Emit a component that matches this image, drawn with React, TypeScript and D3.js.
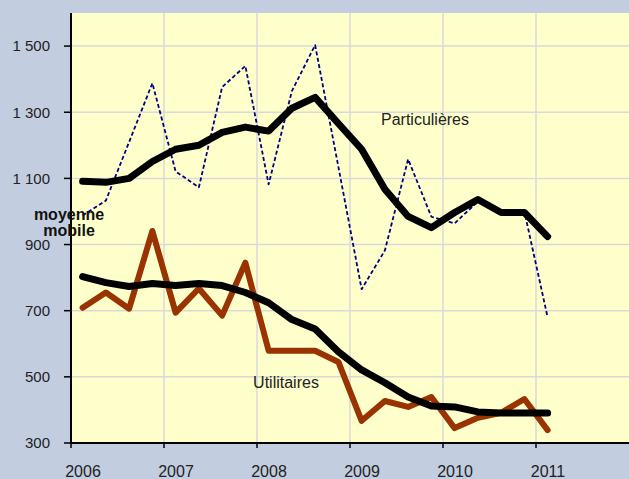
import * as d3 from 'd3';
import { useEffect, useRef } from 'react';

const WIDTH = 629;
const HEIGHT = 479;

// quarterly observations, 2006 T1 -> 2011 T1
const QUARTERS = [
    '2006T1', '2006T2', '2006T3', '2006T4',
    '2007T1', '2007T2', '2007T3', '2007T4',
    '2008T1', '2008T2', '2008T3', '2008T4',
    '2009T1', '2009T2', '2009T3', '2009T4',
    '2010T1', '2010T2', '2010T3', '2010T4',
    '2011T1',
];

const PARTICULIERES = [
    988, 1033, 1210, 1388, 1121, 1073, 1376, 1440, 1082, 1364, 1503, 1135, 765, 882, 1158, 984, 964, 1030, 1000,
    1000, 680,
];
const PARTICULIERES_MM = [
    1091, 1088, 1100, 1151, 1188, 1200, 1239, 1255, 1243, 1312, 1345, 1266, 1188, 1067, 985, 951, 997, 1036, 997,
    997, 924,
];
const UTILITAIRES = [
    709, 755, 706, 941, 694, 767, 685, 845, 579, 579, 579, 545, 367, 427, 409, 439, 345, 376, 391, 433, 339,
];
const UTILITAIRES_MM = [
    803, 785, 773, 782, 776, 782, 776, 755, 724, 673, 645, 576, 521, 482, 439, 412, 409, 394, 391, 391, 391,
];

const Y_TICKS = [300, 500, 700, 900, 1100, 1300, 1500];
const YEARS = [2006, 2007, 2008, 2009, 2010, 2011];

const FONT = '"Liberation Sans", Arial, sans-serif';

// "2008T3" -> 2008.625 (middle of the quarter)
const quarterToYear = (q: string) => +q.slice(0, 4) + (+q.slice(5) - 0.5) / 4;

const App = () => {
    const svgRef = useRef<SVGSVGElement | null>(null);

    useEffect(() => {
        if (!svgRef.current) return;
        const svg = d3.select(svgRef.current);
        svg.selectAll('*').remove();

        const margin = { top: 13, right: 0, bottom: 36, left: 71 };
        const innerBottom = HEIGHT - margin.bottom;

        const xScale = d3.scaleLinear().domain([2006, 2012]).range([margin.left, WIDTH - margin.right]);
        const yScale = d3.scaleLinear().domain([300, 1600]).range([innerBottom, margin.top]);

        // French thousands separator: "1 500"
        const fmt = d3.formatLocale({ decimal: ',', thousands: '\u00a0', grouping: [3], currency: ['', ' €'] }).format(',d');

        // page background + plot area
        svg.append('rect').attr('width', WIDTH).attr('height', HEIGHT).attr('fill', '#c3cde0');
        svg.append('rect')
            .attr('x', margin.left)
            .attr('y', margin.top)
            .attr('width', WIDTH - margin.left)
            .attr('height', innerBottom - margin.top)
            .attr('fill', '#ffffcc');

        // grid
        const grid = svg.append('g').attr('stroke', '#d9d9d9').attr('stroke-width', 1.5);
        grid.selectAll('.gy')
            .data(Y_TICKS)
            .join('line')
            .attr('x1', margin.left)
            .attr('x2', WIDTH)
            .attr('y1', (d) => yScale(d))
            .attr('y2', (d) => yScale(d));
        grid.selectAll('.gx')
            .data(YEARS.slice(1))
            .join('line')
            .attr('x1', (d) => xScale(d))
            .attr('x2', (d) => xScale(d))
            .attr('y1', margin.top)
            .attr('y2', innerBottom);

        // series
        const line = d3
            .line<number>()
            .x((_, i) => xScale(quarterToYear(QUARTERS[i])))
            .y((d) => yScale(d));

        const series = [
            { data: UTILITAIRES, color: '#993300', width: 6, dash: null },
            { data: PARTICULIERES, color: '#000080', width: 1.8, dash: '4,2.5' },
            { data: UTILITAIRES_MM, color: '#000000', width: 7, dash: null },
            { data: PARTICULIERES_MM, color: '#000000', width: 7, dash: null },
        ];
        series.forEach((s) => {
            svg.append('path')
                .attr('d', line(s.data))
                .attr('fill', 'none')
                .attr('stroke', s.color)
                .attr('stroke-width', s.width)
                .attr('stroke-linejoin', 'round')
                .attr('stroke-linecap', s.dash ? 'butt' : 'round')
                .attr('stroke-dasharray', s.dash);
        });

        // axes
        const axisY = svg.append('g').attr('transform', `translate(${margin.left},0)`);
        axisY.append('line').attr('y1', margin.top).attr('y2', innerBottom + 1).attr('stroke', '#000').attr('stroke-width', 2);
        const yt = axisY.selectAll('.yt').data(Y_TICKS).join('g').attr('transform', (d) => `translate(0,${yScale(d)})`);
        yt.append('line').attr('x1', -7).attr('x2', 0).attr('stroke', '#000').attr('stroke-width', 1.5);
        yt.append('text')
            .attr('x', -21)
            .attr('dy', '0.36em')
            .attr('text-anchor', 'end')
            .attr('fill', '#222')
            .style('font', `15px ${FONT}`)
            .text((d) => fmt(d));

        const axisX = svg.append('g').attr('transform', `translate(0,${innerBottom})`);
        axisX.append('line').attr('x1', margin.left - 1).attr('x2', WIDTH).attr('stroke', '#000').attr('stroke-width', 2);
        const xt = axisX.selectAll('.xt').data(YEARS).join('g').attr('transform', (d) => `translate(${xScale(d)},0)`);
        xt.append('line').attr('y1', 0).attr('y2', 5).attr('stroke', '#000').attr('stroke-width', 1.5);
        xt.append('text')
            .attr('x', 12)
            .attr('y', 34)
            .attr('text-anchor', 'middle')
            .attr('fill', '#222')
            .style('font', `16px ${FONT}`)
            .text((d) => d);

        // annotations
        const note = (txt: string, x: number, y: number, bold = false) =>
            svg.append('text')
                .attr('x', x)
                .attr('y', y)
                .attr('text-anchor', 'middle')
                .attr('fill', bold ? '#111' : '#222')
                .style('font', `${bold ? 'bold 16px' : '16px'} ${FONT}`)
                .text(txt);

        note('Particulières', 425, 125);
        note('Utilitaires', 286, 388);
        note('moyenne', 69, 220, true);
        note('mobile', 69, 236, true);
    }, []);

    return <svg ref={svgRef} width={WIDTH} height={HEIGHT} style={{ position: 'absolute', left: 0, top: 0, display: 'block' }} />;
};

export default App;
